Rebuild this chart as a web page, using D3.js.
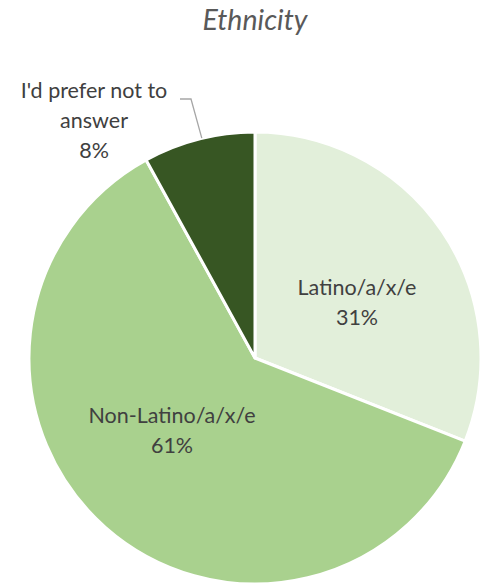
<!DOCTYPE html>
<html><head><meta charset="utf-8">
<script src="https://cdn.jsdelivr.net/npm/d3@7"></script>
<style>body{margin:0;background:#fff}svg{display:block}</style>
</head><body>
<svg id="c" width="483" height="584"></svg>
<script>
const categories = ["Latino/a/x/e", "Non-Latino/a/x/e", "I'd prefer not to answer"];
const values = [31, 61, 8];
const labelLines = [["Latino/a/x/e", "31%"], ["Non-Latino/a/x/e", "61%"], ["I'd prefer not to", "answer", "8%"]];
const colors = ["#e2efda", "#a9d18e", "#375623"];
const title = "Ethnicity";

const svg = d3.select("#c");
const cx = 255, cy = 358, r = 226;
const font = "Lato, 'Open Sans', sans-serif";

svg.append("text").attr("x", 255).attr("y", 30).attr("text-anchor", "middle")
  .attr("font-family", font).attr("font-style", "italic").attr("font-size", 28.5)
  .attr("fill", "#595959").text(title);

const pie = d3.pie().sort(null).value(d => d)(values);
const arc = d3.arc().innerRadius(0).outerRadius(r);
const g = svg.append("g").attr("transform", `translate(${cx},${cy})`);
g.selectAll("path").data(pie).join("path")
  .attr("d", arc).attr("fill", (d, i) => colors[i])
  .attr("stroke", "#fff").attr("stroke-width", 3).attr("stroke-linejoin", "round");

// label anchor positions relative to center (in px)
const labelPos = [[102, -63], [-83, 65], [-161, -260]];
const lh = 30;
labelPos.forEach((p, i) => {
  const t = g.append("text").attr("text-anchor", "middle")
    .attr("font-family", font).attr("font-size", 21.5).attr("fill", "#404040");
  labelLines[i].forEach((s, j) => {
    t.append("tspan").attr("x", p[0]).attr("y", p[1] + j * lh).text(s);
  });
});

// leader line for small slice
const mid = (pie[2].startAngle + pie[2].endAngle) / 2;
const edge = [Math.sin(mid) * r, -Math.cos(mid) * r];
g.append("path")
  .attr("d", d3.line()([[-75, -259], [-64, -259], [edge[0] + 3, edge[1] - 1]]))
  .attr("fill", "none").attr("stroke", "#a6a6a6").attr("stroke-width", 1.3);
</script>
</body></html>
